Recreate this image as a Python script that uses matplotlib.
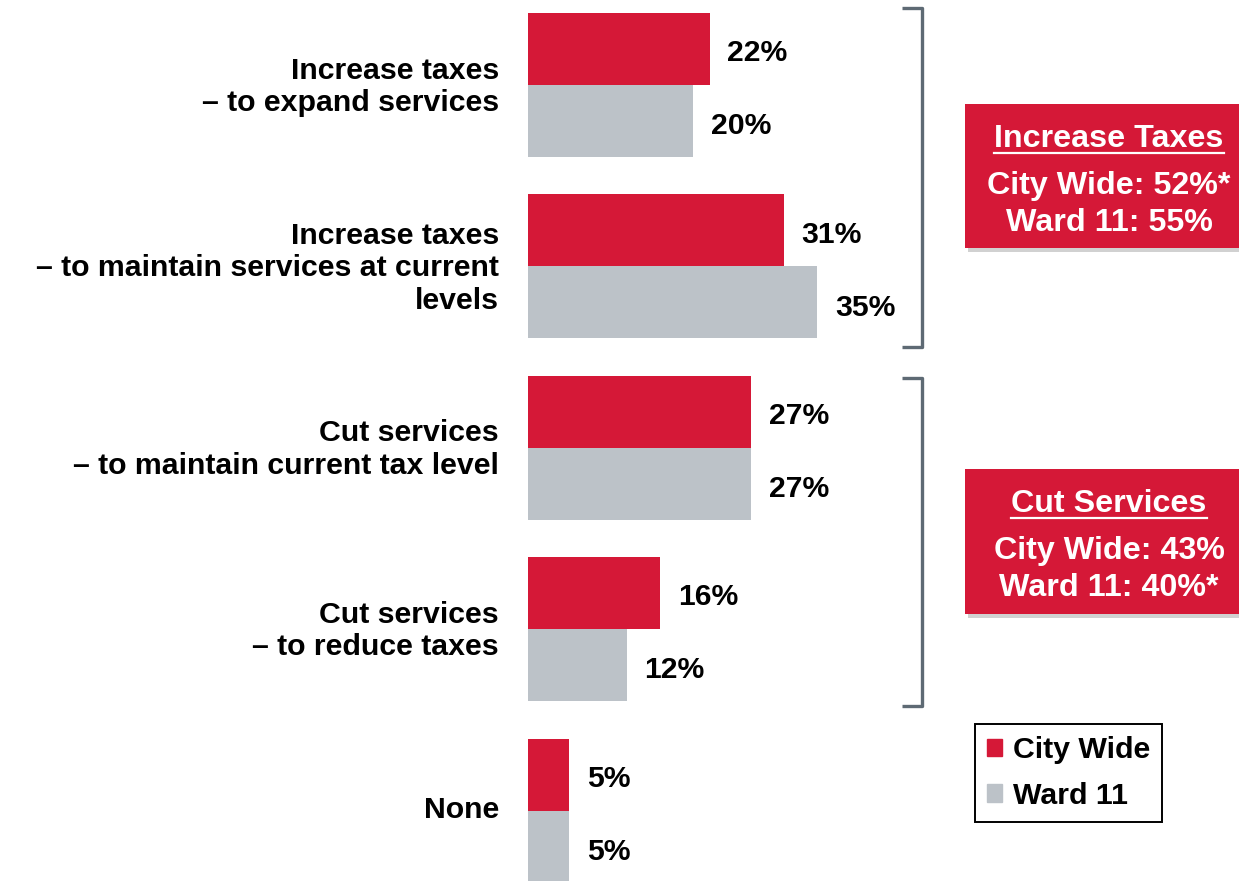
import matplotlib
matplotlib.use("Agg")
import matplotlib.pyplot as plt
from matplotlib.patches import Rectangle, Patch
from matplotlib.transforms import ScaledTranslation

plt.rcParams['font.family'] = ['Liberation Sans', 'DejaVu Sans']
plt.rcParams['font.weight'] = 'bold'

categories = [
    "Increase taxes\n\u2013 to expand services",
    "Increase taxes\n\u2013 to maintain services at current\nlevels",
    "Cut services\n\u2013 to maintain current tax level",
    "Cut services\n\u2013 to reduce taxes",
    "None",
]
city_wide = [22, 31, 27, 16, 5]
ward_11 = [20, 35, 27, 12, 5]
series_names = ["City Wide", "Ward 11"]
summary_titles = ["Increase Taxes", "Cut Services"]
summary_lines = [["City Wide: 52%*", "Ward 11: 55%"],
                 ["City Wide: 43%", "Ward 11: 40%*"]]

RED = "#D51837"
GRAY = "#BCC2C8"
W, H = 1239, 881
FS_CAT = 21.8
FS_VAL = 21.7
FS_BOX = 23.2
FS_LEG = 21.8

fig = plt.figure(figsize=(W / 100, H / 100), dpi=100)
ax = fig.add_axes([528 / W, 0, 1 - 528 / W, 1])
ax.set_xlim(0, (W - 528) / 8.27)
ax.set_ylim(4.388, -0.4686)

h = 0.397
ypos = list(range(len(categories)))
b1 = ax.barh([y - h / 2 for y in ypos], city_wide, height=h, color=RED, label=series_names[0])
b2 = ax.barh([y + h / 2 for y in ypos], ward_11, height=h, color=GRAY, label=series_names[1])

for y, v in zip(ypos, city_wide):
    ax.annotate(f"{v}%", (v, y - h / 2), xytext=(12.5, -3), textcoords='offset points',
                ha='left', va='center', fontsize=FS_VAL, fontweight='bold', color='black')
for y, v in zip(ypos, ward_11):
    ax.annotate(f"{v}%", (v, y + h / 2), xytext=(12.5, -3.8), textcoords='offset points',
                ha='left', va='center', fontsize=FS_VAL, fontweight='bold', color='black')

ax.set_yticks(ypos)
ax.set_yticklabels(categories, fontsize=FS_CAT, fontweight='bold', linespacing=1.2)
ax.tick_params(axis='y', length=0, pad=21)
shift = ScaledTranslation(0, 3.5 / 100, fig.dpi_scale_trans)
for lab in ax.get_yticklabels():
    lab.set_transform(lab.get_transform() + shift)
ax.set_xticks([])
for s in ax.spines.values():
    s.set_visible(False)

# overlay for annotations
ov = fig.add_axes([0, 0, 1, 1], zorder=5)
ov.set_xlim(0, W)
ov.set_ylim(H, 0)
ov.axis('off')
ov.patch.set_alpha(0)

bcol = "#5E6A74"
for (top, bot) in [(8, 347), (378, 706)]:
    ov.plot([902, 922, 922, 902], [top, top, bot, bot], color=bcol, lw=2.4,
            solid_joinstyle='round', solid_capstyle='butt')

boxes = [(104, 248), (469, 614)]
titles = []
for (top, bot), title, lines in zip(boxes, summary_titles, summary_lines):
    ov.add_patch(Rectangle((968, top + 4), 280, bot - top, color='#000000', alpha=0.18, lw=0))
    ov.add_patch(Rectangle((965, top), 280, bot - top, color=RED, lw=0))
    t = ov.text(1109, top + 35, title, ha='center', va='center', color='white',
                fontsize=FS_BOX, fontweight='bold')
    titles.append(t)
    ov.text(1109, top + 82, lines[0], ha='center', va='center', color='white',
            fontsize=FS_BOX, fontweight='bold')
    ov.text(1109, top + 119, lines[1], ha='center', va='center', color='white',
            fontsize=FS_BOX, fontweight='bold')

fig.canvas.draw()
inv = ov.transData.inverted()
for t, (top, bot) in zip(titles, boxes):
    bb = t.get_window_extent()
    (x0, _), (x1, _) = inv.transform([(bb.x0, 0), (bb.x1, 0)])
    ov.plot([x0, x1], [top + 48.5, top + 48.5], color='white', lw=1.6)

leg = ax.legend(handles=[Patch(color=RED), Patch(color=GRAY)], labels=series_names,
                loc='upper left', bbox_to_anchor=(975 / W, 1 - 724 / H),
                bbox_transform=fig.transFigure, borderaxespad=0, fancybox=False,
                framealpha=1, edgecolor='black', handlelength=0.5, handleheight=0.5,
                handletextpad=0.35, labelspacing=0.58, borderpad=0.4,
                prop={'size': FS_LEG, 'weight': 'bold'})
leg.get_frame().set_linewidth(1.4)
leg.set_zorder(10)

fig.savefig("out.png", dpi=100)
